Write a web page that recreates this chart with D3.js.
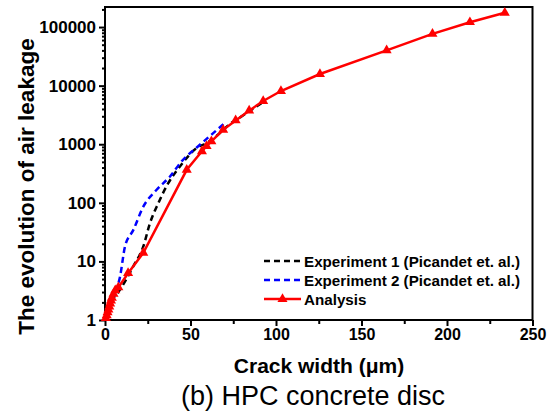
<!DOCTYPE html>
<html>
<head>
<meta charset="utf-8">
<script src="https://cdn.jsdelivr.net/npm/d3@7/dist/d3.min.js"></script>
<style>
  body { margin: 0; background: #fff; }
  svg { font-family: Arial, "Liberation Sans", sans-serif; }
  .axis path { display: none; }
  .axis line { stroke: #000; stroke-width: 2; }
  .axis text { font-weight: bold; fill: #000; }
  .xaxis text { font-size: 16px; }
  .yaxis text { font-size: 17px; }
</style>
</head>
<body>
<div id="chart"></div>
<script>
// crack width (um) vs air leakage
const exp1X = [0, 4, 8.8, 16.5, 22.4, 26.3, 31.2, 37, 43.8, 53.6, 59.4, 66, 72, 80, 88, 93];
const exp1Y = [1, 2.1, 3.3, 8.2, 18, 45, 99, 217, 417, 861, 1050, 1450, 2100, 3000, 4300, 5400];

const exp2X = [0, 1, 4.9, 8.8, 11.7, 16.6, 22.4, 30.2, 38, 44.8, 55.5, 63.3, 70.1];
const exp2Y = [1, 1.1, 2.5, 5.5, 18, 34.5, 86, 167, 282, 509, 980, 1550, 2300];

const anaX = [0.5, 1, 1.5, 2, 2.5, 3, 3.5, 4, 5, 6, 7.8, 13.5, 22.4, 47.8, 56.7, 59.4, 62.2, 69.1, 76.4, 84.3, 92.5, 102.9, 125.7, 164.7, 191.5, 213.4, 233.8];
const anaY = [1.08, 1.2, 1.35, 1.5, 1.7, 1.9, 2.15, 2.4, 2.8, 3.2, 3.6, 6.3, 14, 366, 760, 930, 1120, 1760, 2550, 3740, 5470, 8100, 15800, 40100, 76500, 121000, 175000];

const xMajor = [0, 50, 100, 150, 200, 250];
const xMinor = [25, 75, 125, 175, 225];
const yMajor = [1, 10, 100, 1000, 10000, 100000];

const W = 552, H = 415;
const mLeft = 105, mRight = 532.5, mTop = 7, mBottom = 320;

const svg = d3.select('#chart').append('svg').attr('width', W).attr('height', H);

const x = d3.scaleLinear().domain([0, 250]).range([mLeft, mRight]);
const y = d3.scaleLog().domain([1, 2.2e5]).range([mBottom, mTop]);

let yMinor = [];
yMajor.forEach(function (d) {
  for (let k = 2; k <= 9; k++) {
    if (d * k <= 2.2e5) yMinor.push(d * k);
  }
});

// minor ticks
svg.append('g').attr('class', 'axis')
  .attr('transform', 'translate(0,' + mBottom + ')')
  .call(d3.axisBottom(x).tickValues(xMinor).tickSize(4).tickFormat(''));
svg.append('g').attr('class', 'axis')
  .attr('transform', 'translate(' + mLeft + ',0)')
  .call(d3.axisLeft(y).tickValues(yMinor).tickSize(3).tickFormat(''));

// major ticks
svg.append('g').attr('class', 'axis xaxis')
  .attr('transform', 'translate(0,' + mBottom + ')')
  .call(d3.axisBottom(x).tickValues(xMajor).tickSize(6).tickPadding(3).tickFormat(d3.format('d')));
svg.append('g').attr('class', 'axis yaxis')
  .attr('transform', 'translate(' + mLeft + ',0)')
  .call(d3.axisLeft(y).tickValues(yMajor).tickSize(6).tickPadding(3).tickFormat(d3.format('d')));

// frame
svg.append('rect')
  .attr('x', mLeft).attr('y', mTop)
  .attr('width', mRight - mLeft).attr('height', mBottom - mTop)
  .attr('fill', 'none').attr('stroke', '#000').attr('stroke-width', 2);

const line = d3.line()
  .x(function (d) { return x(d[0]); })
  .y(function (d) { return y(d[1]); })
  .curve(d3.curveMonotoneX);

const exp1 = d3.zip(exp1X, exp1Y);
const exp2 = d3.zip(exp2X, exp2Y);
const ana = d3.zip(anaX, anaY);

svg.append('path').datum(exp1)
  .attr('d', line).attr('fill', 'none')
  .attr('stroke', '#000').attr('stroke-width', 2.5).attr('stroke-dasharray', '6,4');

svg.append('path').datum(exp2)
  .attr('d', line).attr('fill', 'none')
  .attr('stroke', '#0000ff').attr('stroke-width', 2.5).attr('stroke-dasharray', '6,4');

svg.append('path').datum(ana)
  .attr('d', d3.line().x(d => x(d[0])).y(d => y(d[1]))).attr('fill', 'none')
  .attr('stroke', '#ff0000').attr('stroke-width', 2.5);

const tri = d3.symbol().type(d3.symbolTriangle).size(44);
svg.selectAll('.mark').data(ana).enter().append('path')
  .attr('class', 'mark')
  .attr('transform', d => 'translate(' + x(d[0]) + ',' + y(d[1]) + ')')
  .attr('d', tri).attr('fill', '#ff0000');

// legend
const legend = [
  { name: 'Experiment 1 (Picandet et. al.)', color: '#000', dash: '6,4', mark: false },
  { name: 'Experiment 2 (Picandet et. al.)', color: '#0000ff', dash: '6,4', mark: false },
  { name: 'Analysis', color: '#ff0000', dash: null, mark: true }
];
const lg = svg.append('g');
legend.forEach(function (d, i) {
  const ly = 261 + i * 19;
  lg.append('line').attr('x1', 264).attr('x2', 301).attr('y1', ly).attr('y2', ly)
    .attr('stroke', d.color).attr('stroke-width', 2.5)
    .attr('stroke-dasharray', d.dash);
  if (d.mark) {
    lg.append('path').attr('transform', 'translate(282.5,' + ly + ')')
      .attr('d', tri).attr('fill', d.color);
  }
  lg.append('text').attr('x', 304).attr('y', ly + 5.5)
    .attr('font-size', '15.2px').attr('font-weight', 'bold').text(d.name);
});

// titles
svg.append('text').attr('x', 319).attr('y', 373)
  .attr('text-anchor', 'middle').attr('font-size', '21px').attr('font-weight', 'bold')
  .text('Crack width (\u03bcm)');

svg.append('text')
  .attr('transform', 'translate(34,186.5) rotate(-90)')
  .attr('text-anchor', 'middle').attr('font-size', '22.5px').attr('font-weight', 'bold')
  .text('The evolution of air leakage');

svg.append('text').attr('x', 313).attr('y', 405)
  .attr('text-anchor', 'middle').attr('font-size', '27px')
  .text('(b) HPC concrete disc');
</script>
</body>
</html>
